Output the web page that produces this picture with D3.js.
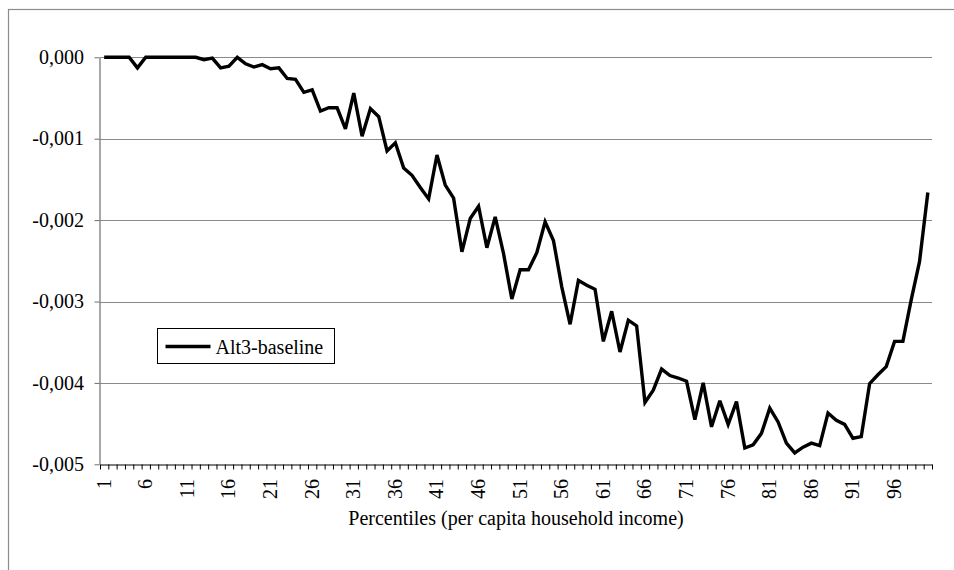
<!DOCTYPE html>
<html>
<head>
<meta charset="utf-8">
<script src="https://cdn.jsdelivr.net/npm/d3@7"></script>
<style>
  html, body { margin: 0; padding: 0; background: #fff; }
  svg { display: block; }
</style>
</head>
<body>
<svg id="chart" width="954" height="570"></svg>
<script>
// Percentile categories 1..100
const percentiles = d3.range(1, 101);

// Alt3 minus baseline, by percentile of per capita household income
const alt3Baseline = [
  0.00000, 0.00000, 0.00000, 0.00000, -0.00013, 0.00000, 0.00000, 0.00000, 0.00000, 0.00000,
  0.00000, 0.00000, -0.00003, -0.00001, -0.00013, -0.00011, 0.00000, -0.00008, -0.00012, -0.00009,
  -0.00014, -0.00013, -0.00026, -0.00027, -0.00043, -0.00040, -0.00066, -0.00062, -0.00062, -0.00088,
  -0.00044, -0.00097, -0.00063, -0.00073, -0.00115, -0.00105, -0.00136, -0.00145, -0.00160, -0.00174,
  -0.00120, -0.00157, -0.00173, -0.00239, -0.00198, -0.00183, -0.00234, -0.00196, -0.00241, -0.00297,
  -0.00261, -0.00261, -0.00240, -0.00202, -0.00225, -0.00282, -0.00328, -0.00274, -0.00280, -0.00285,
  -0.00349, -0.00312, -0.00362, -0.00323, -0.00330, -0.00424, -0.00409, -0.00383, -0.00391, -0.00394,
  -0.00398, -0.00445, -0.00400, -0.00454, -0.00422, -0.00451, -0.00423, -0.00480, -0.00476, -0.00462,
  -0.00431, -0.00448, -0.00474, -0.00486, -0.00479, -0.00474, -0.00477, -0.00437, -0.00446, -0.00451,
  -0.00468, -0.00466, -0.00401, -0.00390, -0.00380, -0.00349, -0.00349, -0.00298, -0.00251, -0.00166
];

const seriesName = "Alt3-baseline";
const xLabelValues = d3.range(1, 101, 5);          // 1, 6, 11, ... 96
const yTickValues = [0, -0.001, -0.002, -0.003, -0.004, -0.005];
const xTitle = "Percentiles (per capita household income)";

const FONT = "Liberation Serif";
const svg = d3.select("#chart");
const plot = { left: 100, right: 932, top: 57.3, bottom: 464.3 };

const locale = d3.formatLocale({ decimal: ",", thousands: ".", grouping: [3], currency: ["", ""], minus: "-" });
const fmtY = locale.format(".3f");

// Category boundaries sit on integers 0..100; each percentile is centred between them
const x = d3.scaleLinear().domain([0, 100]).range([plot.left, plot.right]);
const y = d3.scaleLinear().domain([-0.005, 0]).range([plot.bottom, plot.top]);

// Chart-area frame
svg.append("rect")
  .attr("x", 8.5).attr("y", 9.5)
  .attr("width", 980).attr("height", 600)
  .attr("fill", "none").attr("stroke", "#8c8c8c").attr("stroke-width", 1.2);

// Horizontal gridlines
svg.append("g")
  .selectAll("line")
  .data(yTickValues.filter(v => v !== -0.005))
  .join("line")
  .attr("x1", plot.left).attr("x2", plot.right)
  .attr("y1", d => Math.round(y(d)) + 0.5).attr("y2", d => Math.round(y(d)) + 0.5)
  .attr("stroke", "#8a8a8a").attr("stroke-width", 1.2);

// Y axis line and ticks
const yAxis = svg.append("g")
  .attr("transform", `translate(${plot.left - 0.5},0)`)
  .call(d3.axisLeft(y).tickValues(yTickValues).tickFormat("").tickSize(5).tickSizeOuter(0));
yAxis.select(".domain").attr("stroke", "#6e6e6e").attr("stroke-width", 1.2);
yAxis.selectAll(".tick line").attr("stroke", "#6e6e6e");

// Y tick labels
svg.append("g")
  .selectAll("text")
  .data(yTickValues)
  .join("text")
  .attr("x", 84)
  .attr("y", d => y(d))
  .attr("dy", "0.33em")
  .attr("text-anchor", "end")
  .attr("font-family", FONT)
  .attr("font-size", 20)
  .attr("fill", "#000")
  .text(d => fmtY(d));

// X axis: tick marks on the category boundaries
const xAxis = svg.append("g")
  .attr("transform", `translate(0,${Math.round(plot.bottom) + 0.5})`)
  .call(d3.axisBottom(x).tickValues(d3.range(0, 101)).tickFormat("").tickSize(5).tickSizeOuter(0));
xAxis.select(".domain").attr("stroke", "#000").attr("stroke-width", 1.2);
xAxis.selectAll(".tick line").attr("stroke", "#000");

// X labels: every fifth percentile, rotated to read upward
svg.append("g")
  .selectAll("text")
  .data(xLabelValues)
  .join("text")
  .attr("transform", d => `translate(${x(d - 0.5) + 6.5},479) rotate(-90)`)
  .attr("text-anchor", "end")
  .attr("font-family", FONT)
  .attr("font-size", 20)
  .attr("fill", "#000")
  .text(d => String(d));

// X axis title
svg.append("text")
  .attr("x", (plot.left + plot.right) / 2)
  .attr("y", 525)
  .attr("text-anchor", "middle")
  .attr("font-family", FONT)
  .attr("font-size", 20)
  .text(xTitle);

// Series line
const line = d3.line()
  .x((d, i) => x(percentiles[i] - 0.5))
  .y(d => y(d));

svg.append("path")
  .datum(alt3Baseline)
  .attr("d", line)
  .attr("fill", "none")
  .attr("stroke", "#000")
  .attr("stroke-width", 3.4)
  .attr("stroke-linejoin", "miter")
  .attr("stroke-miterlimit", 3);

// Legend
const legend = svg.append("g").attr("transform", "translate(157.5,328.5)");
legend.append("rect")
  .attr("width", 177).attr("height", 35)
  .attr("fill", "#fff").attr("stroke", "#000").attr("stroke-width", 1);
legend.append("line")
  .attr("x1", 8).attr("x2", 53)
  .attr("y1", 18).attr("y2", 18)
  .attr("stroke", "#000").attr("stroke-width", 3.4);
legend.append("text")
  .attr("x", 58).attr("y", 25)
  .attr("font-family", FONT)
  .attr("font-size", 20)
  .text(seriesName);
</script>
</body>
</html>
